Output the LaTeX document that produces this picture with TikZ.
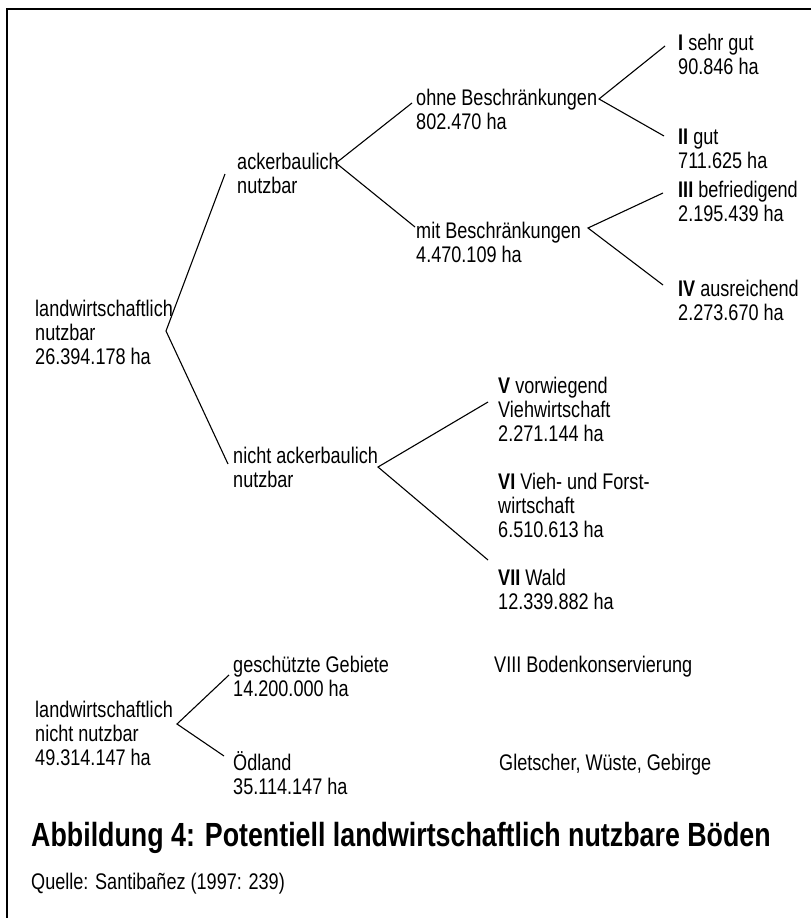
\documentclass[tikz,border=0pt]{standalone}
\usepackage{fontspec}
\setmainfont[FakeStretch=0.8]{Liberation Sans}
\newcommand\lines[1]{\begin{tabular}[t]{@{}l@{}}#1\end{tabular}}
\begin{document}
\begin{tikzpicture}[x=1pt,y=-1pt,
  lbl/.style={anchor=base west,inner sep=0pt,font=\fontsize{22.6}{24}\selectfont},
  ttl/.style={anchor=base west,inner sep=0pt,font=\fontsize{33.5}{36}\selectfont\bfseries},
  branch/.style={line width=1.1pt,line join=miter},
  frame/.style={line width=2.2pt}]
\useasboundingbox (0,0) rectangle (811,918);
% outer frame (top and left edges)
\draw[frame] (7,918) -- (7,9) -- (811,9);

% text blocks
\node[lbl] (root)  at (35,316)  {\lines{landwirtschaftlich\\nutzbar\\26.394.178 ha}};
\node[lbl] (acker) at (237,169) {\lines{ackerbaulich\\nutzbar}};
\node[lbl] (ohne)  at (416,105) {\lines{ohne Beschränkungen\\802.470 ha}};
\node[lbl] (mit)   at (416,238) {\lines{mit Beschränkungen\\4.470.109 ha}};
\node[lbl] (k1)    at (678,50)  {\lines{\textbf{I} sehr gut\\90.846 ha}};
\node[lbl] (k2)    at (678,144) {\lines{\textbf{II} gut\\711.625 ha}};
\node[lbl] (k3)    at (678,197) {\lines{\textbf{III} befriedigend\\2.195.439 ha}};
\node[lbl] (k4)    at (678,296) {\lines{\textbf{IV} ausreichend\\2.273.670 ha}};
\node[lbl] (nicht) at (233,463) {\lines{nicht ackerbaulich\\nutzbar}};
\node[lbl] (k5)    at (498,393) {\lines{\textbf{V} vorwiegend\\Viehwirtschaft\\2.271.144 ha}};
\node[lbl] (k6)    at (498,489) {\lines{\textbf{VI} Vieh- und Forst-\\wirtschaft\\6.510.613 ha}};
\node[lbl] (k7)    at (498,585) {\lines{\textbf{VII} Wald\\12.339.882 ha}};
\node[lbl] (unn)   at (35,717)  {\lines{landwirtschaftlich\\nicht nutzbar\\49.314.147 ha}};
\node[lbl] (schutz) at (233,672) {\lines{geschützte Gebiete\\14.200.000 ha}};
\node[lbl] (oed)   at (233,770) {\lines{Ödland\\35.114.147 ha}};
\node[lbl] (k8)    at (494,672) {VIII Bodenkonservierung};
\node[lbl] (gwg)   at (499,770) {Gletscher, Wüste, Gebirge};
\node[ttl] (title) at (31,846)  {Abbildung 4: Potentiell landwirtschaftlich nutzbare Böden};
\node[lbl] (src)   at (31,889)  {Quelle: Santibañez (1997: 239)};

% branch points and branch ends
\coordinate (root-v)   at (166,331);
\coordinate (root-a)   at (225,174);
\coordinate (root-b)   at (228,464);
\coordinate (acker-v)  at (336,163);
\coordinate (acker-a)  at (412,103);
\coordinate (acker-b)  at (415,227);
\coordinate (ohne-v)   at (599,99);
\coordinate (ohne-a)   at (665,46);
\coordinate (ohne-b)   at (664,136);
\coordinate (mit-v)    at (588,228);
\coordinate (mit-a)    at (663,193);
\coordinate (mit-b)    at (663,285);
\coordinate (nicht-v)  at (378,467);
\coordinate (nicht-a)  at (488,402);
\coordinate (nicht-b)  at (488,560);
\coordinate (unn-v)    at (177,724);
\coordinate (unn-a)    at (229,675);
\coordinate (unn-b)    at (224,756);

% branches
\draw[branch] (root-a)  -- (root-v)  -- (root-b);
\draw[branch] (acker-a) -- (acker-v) -- (acker-b);
\draw[branch] (ohne-a)  -- (ohne-v)  -- (ohne-b);
\draw[branch] (mit-a)   -- (mit-v)   -- (mit-b);
\draw[branch] (nicht-a) -- (nicht-v) -- (nicht-b);
\draw[branch] (unn-a)   -- (unn-v)   -- (unn-b);
\end{tikzpicture}
\end{document}
